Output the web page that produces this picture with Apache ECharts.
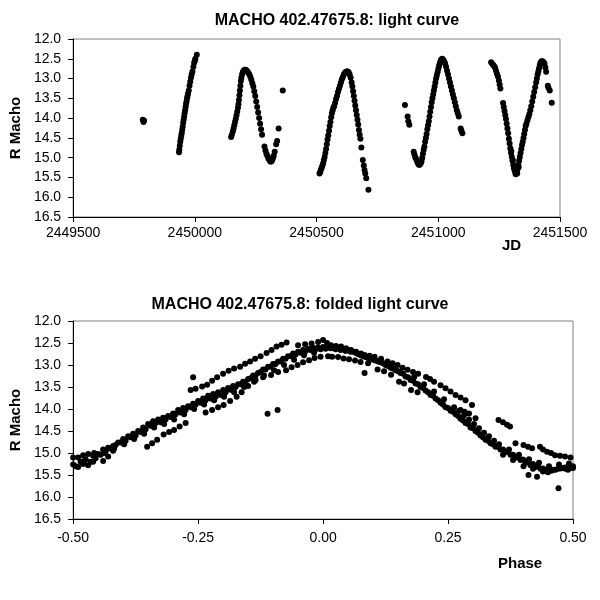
<!DOCTYPE html>
<html><head><meta charset="utf-8">
<script src="https://cdn.jsdelivr.net/npm/echarts@6/dist/echarts.min.js"></script>
<style>html,body{margin:0;padding:0;background:#fff}#c{width:600px;height:600px}</style>
</head><body><div id="c"></div>
<script>
// ---- Light curve (JD, R Macho) ----
const lightCurveA = [[2449786,14.04],[2449789,14.1],[2449791,14.06]];
const lightCurveB = [[2449935,14.86],[2449936,14.8],[2449938,14.7],[2449940,14.6],[2449942,14.52],[2449944,14.45],[2449946,14.38],[2449948,14.3],[2449950,14.22],[2449952,14.12],[2449954,14.04],[2449956,13.96],[2449958,13.88],[2449960,13.8],[2449962,13.72],[2449964,13.64],[2449966,13.58],[2449968,13.5],[2449970,13.44],[2449972,13.38],[2449975,13.3],[2449978,13.18],[2449981,13.08],[2449984,12.98],[2449987,12.9],[2449990,12.82],[2449994,12.7],[2449997,12.6],[2450000,12.55],[2450002,12.5],[2450008,12.4]];
const lightCurveC = [[2450149,14.48],[2450152,14.42],[2450156,14.34],[2450159,14.26],[2450162,14.18],[2450165,14.1],[2450168,14.02],[2450171,13.93],[2450174,13.84],[2450177,13.74],[2450179,13.65],[2450181,13.54],[2450183,13.42],[2450185,13.3],[2450187,13.18],[2450189,13.06],[2450191,12.98],[2450194,12.9],[2450197,12.84],[2450200,12.8],[2450204,12.78],[2450208,12.78],[2450212,12.79],[2450216,12.82],[2450220,12.86],[2450224,12.9],[2450228,12.96],[2450232,13.03],[2450236,13.12],[2450240,13.2],[2450244,13.32],[2450248,13.44],[2450252,13.58],[2450256,13.72],[2450260,13.86],[2450264,14.0],[2450268,14.14],[2450272,14.28],[2450276,14.42],[2450286,14.72],[2450290,14.82],[2450294,14.9],[2450298,14.96],[2450302,15.02],[2450306,15.06],[2450310,15.1],[2450314,15.1],[2450318,15.06],[2450321,15.0],[2450324,14.95],[2450328,14.85],[2450334,14.66],[2450338,14.58],[2450344,14.26],[2450361,13.3]];
const lightCurveD = [[2450512,15.4],[2450515,15.36],[2450518,15.3],[2450521,15.26],[2450524,15.2],[2450527,15.14],[2450530,15.06],[2450533,14.98],[2450536,14.88],[2450539,14.78],[2450542,14.66],[2450545,14.54],[2450548,14.44],[2450551,14.32],[2450554,14.2],[2450557,14.1],[2450560,13.98],[2450563,13.88],[2450566,13.8],[2450569,13.74],[2450572,13.7],[2450576,13.62],[2450580,13.52],[2450584,13.44],[2450588,13.34],[2450592,13.26],[2450596,13.18],[2450600,13.1],[2450604,13.02],[2450608,12.96],[2450612,12.9],[2450616,12.86],[2450620,12.83],[2450624,12.82],[2450628,12.82],[2450632,12.84],[2450636,12.9],[2450640,12.98],[2450644,13.1],[2450647,13.2],[2450650,13.32],[2450653,13.44],[2450656,13.56],[2450659,13.68],[2450662,13.8],[2450665,13.92],[2450668,14.04],[2450671,14.16],[2450674,14.3],[2450677,14.42],[2450680,14.52],[2450684,14.74],[2450690,15.06],[2450694,15.2],[2450697,15.31],[2450700,15.4],[2450704,15.52],[2450713,15.81]];
const lightCurveE = [[2450863,13.67],[2450874,13.96],[2450877,14.08],[2450881,14.17],[2450899,14.85],[2450902,14.92],[2450905,14.98],[2450908,15.02],[2450912,15.08],[2450916,15.14],[2450920,15.18],[2450924,15.18],[2450928,15.14],[2450931,15.1],[2450934,15.0],[2450937,14.9],[2450940,14.8],[2450943,14.72],[2450946,14.6],[2450949,14.5],[2450952,14.4],[2450955,14.28],[2450958,14.18],[2450961,14.08],[2450964,13.96],[2450967,13.84],[2450970,13.72],[2450973,13.6],[2450976,13.5],[2450979,13.4],[2450982,13.3],[2450985,13.2],[2450988,13.1],[2450991,13.0],[2450994,12.92],[2450997,12.84],[2451000,12.76],[2451003,12.68],[2451006,12.62],[2451009,12.56],[2451012,12.52],[2451016,12.5],[2451020,12.52],[2451024,12.56],[2451028,12.62],[2451032,12.7],[2451036,12.8],[2451040,12.9],[2451044,13.0],[2451048,13.1],[2451052,13.2],[2451056,13.3],[2451060,13.4],[2451064,13.5],[2451068,13.6],[2451072,13.7],[2451076,13.8],[2451080,13.88],[2451084,13.96],[2451092,14.26],[2451095,14.32],[2451099,14.38]];
const lightCurveF = [[2451217,12.59],[2451221,12.62],[2451225,12.65],[2451229,12.68],[2451233,12.72],[2451237,12.8],[2451241,12.88],[2451245,12.95],[2451249,13.05],[2451252,13.15],[2451255,13.25],[2451266,13.62],[2451269,13.72],[2451272,13.82],[2451275,13.92],[2451278,14.02],[2451281,14.14],[2451284,14.26],[2451287,14.38],[2451290,14.52],[2451293,14.64],[2451296,14.76],[2451299,14.88],[2451302,14.98],[2451305,15.08],[2451308,15.18],[2451311,15.26],[2451314,15.33],[2451317,15.38],[2451320,15.4],[2451323,15.36],[2451326,15.28],[2451329,15.18],[2451332,15.08],[2451335,14.98],[2451338,14.88],[2451341,14.78],[2451344,14.68],[2451347,14.6],[2451350,14.5],[2451353,14.4],[2451356,14.3],[2451359,14.2],[2451362,14.14],[2451366,14.06],[2451370,13.98],[2451374,13.9],[2451378,13.8],[2451382,13.7],[2451386,13.58],[2451390,13.46],[2451394,13.34],[2451398,13.22],[2451402,13.1],[2451405,13.0],[2451408,12.9],[2451411,12.82],[2451414,12.74],[2451417,12.66],[2451420,12.6],[2451424,12.56],[2451428,12.56],[2451432,12.58],[2451436,12.62],[2451440,12.72],[2451443,12.83],[2451450,13.18],[2451453,13.24],[2451458,13.3],[2451466,13.61],[2451300,14.84],[2451306,15.06],[2451312,15.28],[2451318,15.42],[2451324,15.4],[2451330,15.24]];

// ---- Folded light curve (phase, R Macho) ----
const foldedMain = [[-0.50,15.26],[-0.49,15.1],[-0.48,15.05],[-0.47,15.02],[-0.46,15.06],[-0.45,15.02],[-0.44,14.92],[-0.43,14.88],[-0.42,14.84],[-0.41,14.76],[-0.40,14.68],[-0.39,14.62],[-0.38,14.56],[-0.37,14.5],[-0.36,14.42],[-0.35,14.34],[-0.34,14.28],[-0.33,14.24],[-0.32,14.2],[-0.31,14.16],[-0.30,14.1],[-0.29,14.02],[-0.28,13.98],[-0.27,13.94],[-0.26,13.88],[-0.25,13.82],[-0.24,13.76],[-0.23,13.7],[-0.22,13.66],[-0.21,13.62],[-0.20,13.57],[-0.19,13.52],[-0.18,13.48],[-0.17,13.44],[-0.16,13.38],[-0.15,13.32],[-0.14,13.24],[-0.13,13.18],[-0.12,13.1],[-0.11,13.04],[-0.10,12.98],[-0.09,12.92],[-0.08,12.86],[-0.07,12.8],[-0.06,12.74],[-0.05,12.7],[-0.04,12.66],[-0.03,12.63],[-0.02,12.61],[-0.01,12.6],[0.00,12.59],[0.01,12.6],[0.02,12.61],[0.03,12.62],[0.04,12.64],[0.05,12.66],[0.06,12.7],[0.07,12.75],[0.08,12.8],[0.09,12.84],[0.10,12.88],[0.11,12.92],[0.12,12.96],[0.13,13.02],[0.14,13.08],[0.15,13.14],[0.16,13.2],[0.17,13.28],[0.18,13.36],[0.19,13.44],[0.20,13.52],[0.21,13.62],[0.22,13.7],[0.23,13.8],[0.24,13.9],[0.25,13.98],[0.26,14.06],[0.27,14.16],[0.28,14.26],[0.29,14.34],[0.30,14.44],[0.31,14.54],[0.32,14.64],[0.33,14.72],[0.34,14.8],[0.35,14.86],[0.36,14.92],[0.37,14.98],[0.38,15.04],[0.39,15.1],[0.40,15.15],[0.41,15.2],[0.42,15.25],[0.43,15.3],[0.44,15.35],[0.45,15.37],[0.46,15.38],[0.47,15.36],[0.48,15.34],[0.49,15.32],[0.50,15.3]];
const foldedMain2 = [[-0.495,15.3],[-0.485,15.2],[-0.475,15.14],[-0.465,15.2],[-0.455,15.12],[-0.445,15.04],[-0.435,14.96],[-0.425,14.9],[-0.415,14.82],[-0.405,14.76],[-0.395,14.72],[-0.385,14.64],[-0.375,14.6],[-0.365,14.52],[-0.355,14.46],[-0.345,14.38],[-0.335,14.32],[-0.325,14.3],[-0.315,14.24],[-0.305,14.18],[-0.295,14.12],[-0.285,14.08],[-0.275,14.02],[-0.265,13.96],[-0.255,13.9],[-0.245,13.86],[-0.235,13.8],[-0.225,13.76],[-0.215,13.72],[-0.205,13.68],[-0.195,13.62],[-0.185,13.56],[-0.175,13.5],[-0.165,13.44],[-0.155,13.38],[-0.145,13.3],[-0.135,13.24],[-0.125,13.16],[-0.115,13.1],[-0.105,13.04],[-0.095,12.98],[-0.085,12.92],[-0.075,12.86],[-0.065,12.8],[-0.055,12.76],[-0.045,12.72],[-0.035,12.68],[-0.025,12.66],[-0.015,12.64],[-0.005,12.64],[0.005,12.63],[0.015,12.62],[0.025,12.64],[0.035,12.66],[0.045,12.68],[0.055,12.7],[0.065,12.72],[0.075,12.78],[0.085,12.82],[0.095,12.86],[0.105,12.9],[0.115,12.94],[0.125,13.0],[0.135,13.06],[0.145,13.12],[0.155,13.18],[0.165,13.26],[0.175,13.34],[0.185,13.42],[0.195,13.5],[0.205,13.58],[0.215,13.68],[0.225,13.76],[0.235,13.86],[0.245,13.96],[0.255,14.04],[0.265,14.12],[0.275,14.22],[0.285,14.32],[0.295,14.42],[0.305,14.5],[0.315,14.6],[0.325,14.7],[0.335,14.78],[0.345,14.86],[0.355,14.92],[0.365,14.98],[0.375,15.04],[0.385,15.1],[0.395,15.16],[0.405,15.22],[0.415,15.28],[0.425,15.32],[0.435,15.36],[0.445,15.4],[0.455,15.4],[0.465,15.38],[0.475,15.35],[0.485,15.36],[0.495,15.34]];
const foldedMain3 = [[-0.478,15.18],[-0.458,15.0],[-0.438,15.0],[-0.418,14.9],[-0.398,14.8],[-0.378,14.68],[-0.358,14.56],[-0.338,14.42],[-0.318,14.34],[-0.298,14.24],[-0.278,14.12],[-0.258,14.0],[-0.238,13.9],[-0.218,13.8],[-0.198,13.72],[-0.178,13.62],[-0.158,13.5],[-0.138,13.38],[-0.118,13.24],[-0.098,13.12],[-0.078,13.0],[-0.058,12.88],[-0.038,12.78],[-0.018,12.72],[0.182,13.28],[0.202,13.44],[0.222,13.6],[0.242,13.78],[0.262,13.96],[0.272,14.04],[0.282,14.14],[0.292,14.24],[0.302,14.34],[0.312,14.44],[0.322,14.54],[0.332,14.62],[0.342,14.72],[0.352,14.8],[0.372,14.92],[0.392,15.04],[0.412,15.14],[0.432,15.22],[0.452,15.3],[0.472,15.26],[0.492,15.24]];
const foldedUpper = [[-0.265,13.57],[-0.255,13.54],[-0.242,13.49],[-0.232,13.45],[-0.222,13.36],[-0.212,13.28],[-0.2,13.2],[-0.189,13.13],[-0.178,13.08],[-0.166,13.04],[-0.156,12.97],[-0.146,12.92],[-0.136,12.86],[-0.125,12.8],[-0.113,12.73],[-0.103,12.66],[-0.093,12.58],[-0.083,12.54],[-0.073,12.49],[-0.05,12.55],[-0.036,12.53],[-0.023,12.51],[-0.01,12.48],[0.0,12.43],[0.008,12.5],[0.016,12.55],[0.026,12.57],[0.036,12.58],[0.046,12.62],[0.056,12.66],[0.066,12.7],[0.076,12.74],[0.083,12.77],[0.093,12.79],[0.103,12.81],[0.116,12.86],[0.129,12.92],[0.139,12.96],[0.149,13.0],[0.159,13.06],[0.169,13.11],[0.18,13.16],[0.19,13.2],[0.206,13.27],[0.214,13.32],[0.222,13.38],[0.235,13.46],[0.245,13.53],[0.255,13.6],[0.265,13.68],[0.275,13.74],[0.285,13.8],[0.298,13.91],[0.275,14.02],[0.283,14.06],[0.292,14.1],[0.305,14.21],[0.351,14.25],[0.36,14.3],[0.368,14.36],[0.374,14.4],[0.385,14.78],[0.401,14.82],[0.41,14.86],[0.418,14.89],[0.434,14.86],[0.44,14.92],[0.448,14.97],[0.456,15.0],[0.464,15.05],[0.474,15.06],[0.484,15.08],[0.495,15.1]];
const foldedLower = [[-0.5,15.1],[-0.49,15.32],[-0.48,15.25],[-0.47,15.28],[-0.46,15.2],[-0.44,15.18],[-0.43,15.08],[-0.42,14.95],[-0.352,14.86],[-0.342,14.78],[-0.332,14.7],[-0.319,14.58],[-0.308,14.52],[-0.298,14.48],[-0.287,14.4],[-0.275,14.32],[-0.235,14.08],[-0.222,14.02],[-0.21,13.96],[-0.199,13.91],[-0.186,13.82],[-0.173,13.72],[-0.163,13.62],[-0.15,13.48],[-0.135,13.34],[-0.12,13.28],[-0.104,13.23],[-0.09,13.16],[-0.074,13.12],[-0.063,13.05],[-0.051,13.0],[-0.04,12.94],[-0.028,12.89],[-0.017,12.84],[-0.005,12.81],[0.01,12.8],[0.018,12.81],[0.03,12.82],[0.041,12.85],[0.052,12.87],[0.064,12.9],[0.075,12.93],[0.09,12.96],[0.109,13.1],[0.122,13.14],[0.136,13.22],[0.152,13.38],[0.162,13.42],[0.176,13.57],[0.189,13.62],[0.36,15.04],[0.38,15.16],[0.401,15.3],[0.42,15.36],[0.44,15.42],[0.45,15.44],[0.458,15.4],[0.484,15.33],[0.49,15.38],[0.5,15.34]];
const foldedOutliers = [[-0.26,13.28],[-0.111,14.11],[-0.091,14.02],[0.083,13.18],[0.411,15.5],[0.428,15.54],[0.471,15.8]];

const magTicks = {min: 12, max: 16.5, interval: 0.5};

const chart = echarts.init(document.getElementById('c'));
const FONT = 'Liberation Sans, Arial, sans-serif';
const lblStyle = {color: '#000', fontFamily: FONT, fontSize: 14};
const nameStyle = {color: '#000', fontFamily: FONT, fontSize: 15, fontWeight: 'bold'};
function xAxisCfg(grid, min, max, interval, fmt, margin) {
  return {type: 'value', gridIndex: grid, min: min, max: max, interval: interval,
    axisLine: {show: true, onZero: false, lineStyle: {color: '#000', width: 1}},
    axisTick: {show: true, inside: false, length: 5, lineStyle: {color: '#000'}},
    axisLabel: Object.assign({formatter: fmt, margin: margin, showMinLabel: true, showMaxLabel: true}, lblStyle),
    splitLine: {show: false}};
}
function yAxisCfg(grid) {
  return {type: 'value', gridIndex: grid, inverse: true, min: magTicks.min, max: magTicks.max, interval: magTicks.interval,
    name: 'R Macho', nameLocation: 'middle', nameGap: 48, nameRotate: 90, nameTextStyle: nameStyle,
    axisLine: {show: true, onZero: false, lineStyle: {color: '#000', width: 1}},
    axisTick: {show: true, inside: false, length: 5, lineStyle: {color: '#000'}},
    axisLabel: Object.assign({formatter: v => v.toFixed(1), margin: 12}, lblStyle),
    splitLine: {show: false}};
}
function sc(data, x, y) {
  return {type: 'scatter', xAxisIndex: x, yAxisIndex: y, data: data, symbol: 'circle', symbolSize: 6,
    itemStyle: {color: '#000', opacity: 1, borderWidth: 0}, silent: true, animation: false};
}
chart.setOption({
  animation: false,
  backgroundColor: '#fff',
  title: [
    {text: 'MACHO 402.47675.8: light curve', left: 332, top: 8, textAlign: 'center',
     textStyle: {fontFamily: FONT, fontSize: 16, fontWeight: 'bold', color: '#000'}},
    {text: 'MACHO 402.47675.8: folded light curve', left: 295, top: 292, textAlign: 'center',
     textStyle: {fontFamily: FONT, fontSize: 16, fontWeight: 'bold', color: '#000'}}
  ],
  grid: [
    {left: 69, right: 40, top: 39, height: 178, show: true, borderColor: '#808080', borderWidth: 1, backgroundColor: 'transparent'},
    {left: 69, right: 27, top: 321, height: 198, show: true, borderColor: '#808080', borderWidth: 1, backgroundColor: 'transparent'}
  ],
  xAxis: [
    xAxisCfg(0, 2449500, 2451500, 500, v => String(v), 9),
    xAxisCfg(1, -0.5, 0.5, 0.25, v => v.toFixed(2), 12)
  ],
  yAxis: [yAxisCfg(0), yAxisCfg(1)],
  graphic: [
    {type: 'text', left: 502, top: 238, style: {text: 'JD', font: 'bold 15px ' + FONT, fill: '#000'}},
    {type: 'text', left: 498, top: 556, style: {text: 'Phase', font: 'bold 15px ' + FONT, fill: '#000'}}
  ],
  series: [
    sc(lightCurveA, 0, 0), sc(lightCurveB, 0, 0), sc(lightCurveC, 0, 0),
    sc(lightCurveD, 0, 0), sc(lightCurveE, 0, 0), sc(lightCurveF, 0, 0),
    sc(foldedMain, 1, 1), sc(foldedMain2, 1, 1), sc(foldedMain3, 1, 1), sc(foldedUpper, 1, 1),
    sc(foldedLower, 1, 1), sc(foldedOutliers, 1, 1)
  ]
});
</script></body></html>
